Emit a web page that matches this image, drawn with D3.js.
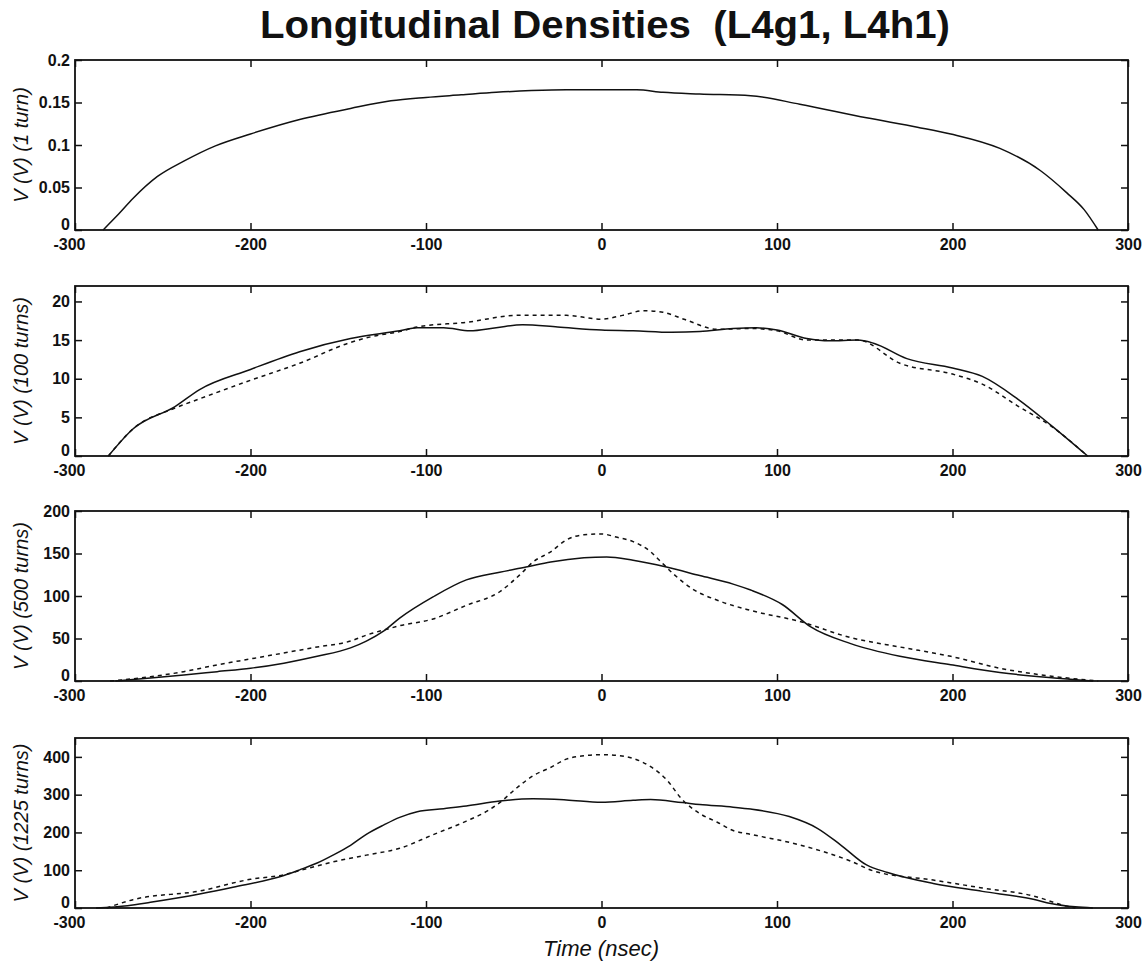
<!DOCTYPE html>
<html>
<head>
<meta charset="utf-8">
<script src="https://cdn.jsdelivr.net/npm/d3@7"></script>
<style>
  body { margin: 0; background: #fff; }
  svg { display: block; }
</style>
</head>
<body>
<svg id="chart" width="1147" height="968"></svg>
<script>
// ---- data ----
const timeTicks = [-300, -200, -100, 0, 100, 200, 300];

// 1 turn (single trace)
const turn1T = [-284, -275, -267, -253, -238, -220, -200, -172, -143, -120, -100, -80, -60, -40, -20, 0, 20, 35, 56, 85, 113, 151, 180, 199, 227, 250, 265, 275, 283];
const turn1V = [0, 0.019, 0.037, 0.063, 0.081, 0.099, 0.113, 0.130, 0.143, 0.152, 0.156, 0.159, 0.162, 0.164, 0.165, 0.165, 0.165, 0.162, 0.160, 0.158, 0.148, 0.132, 0.121, 0.113, 0.096, 0.070, 0.044, 0.024, 0];

// 100 turns
const turn100T = [-281, -267, -243, -229, -200, -172, -143, -115, -105, -90, -75, -60, -45, -25, 0, 18, 40, 56, 75, 88, 100, 117, 130, 146, 155, 174, 200, 217, 237, 256, 277];
const turn100Solid = [0, 3.5, 6.4, 8.6, 11.2, 13.5, 15.2, 16.2, 16.6, 16.6, 16.2, 16.6, 17.0, 16.7, 16.3, 16.2, 16.0, 16.1, 16.5, 16.6, 16.3, 15.2, 14.9, 15.0, 14.6, 12.6, 11.4, 10.3, 7.4, 4.0, 0];
const turn100DashT = [-281, -267, -243, -229, -200, -172, -143, -130, -115, -105, -77, -48, -20, 0, 12, 24, 35, 47, 66, 85, 100, 117, 146, 170, 200, 217, 237, 256, 277];
const turn100Dashed = [0, 3.5, 6.2, 7.4, 9.8, 12.0, 14.7, 15.5, 16.1, 16.7, 17.3, 18.2, 18.2, 17.7, 18.2, 18.8, 18.6, 17.7, 16.4, 16.5, 16.2, 15.0, 15.0, 12.0, 10.6, 9.3, 6.5, 3.9, 0];

// 500 turns
const turn500T = [-277, -257, -238, -219, -200, -181, -162, -143, -134, -124, -115, -96, -77, -58, -43, -29, -10, 3, 18, 37, 56, 75, 85, 103, 119, 142, 170, 199, 227, 255, 280];
const turn500Solid = [0, 3.5, 7, 11, 15, 21, 29, 39, 47, 59, 74, 99, 119, 128, 134, 140, 145, 146, 142, 134, 124, 114, 107, 90, 64, 44, 29, 19, 10, 4, 0];
const turn500DashT = [-280, -257, -238, -219, -200, -181, -162, -143, -134, -124, -115, -96, -77, -58, -46, -39, -29, -20, -10, 0, 9, 18, 28, 33, 41, 52, 66, 85, 113, 142, 170, 199, 227, 255, 283];
const turn500Dashed = [0, 5, 11, 19, 26, 33, 40, 47, 54, 60, 65, 73, 89, 105, 126, 140, 152, 166, 172, 173, 169, 164, 152, 142, 126, 108, 95, 83, 70, 51, 40, 29, 15, 6, 0];

// 1225 turns
const turn1225T = [-288, -270, -257, -229, -210, -181, -172, -162, -153, -143, -134, -124, -115, -105, -90, -77, -58, -39, -20, 0, 18, 28, 46, 56, 75, 85, 107, 123, 136, 151, 163, 189, 217, 246, 256, 270, 280];
const turn1225Solid = [0, 6, 15, 37, 55, 86, 101, 119, 140, 166, 195, 220, 240, 255, 263, 270, 283, 289, 286, 280, 285, 287, 279, 274, 267, 262, 242, 211, 168, 114, 94, 65, 44, 23, 12, 3, 0];
const turn1225DashT = [-282, -267, -229, -200, -181, -172, -153, -134, -115, -96, -77, -65, -58, -48, -39, -29, -20, -10, 0, 9, 18, 28, 37, 46, 56, 66, 75, 85, 113, 142, 155, 189, 217, 246, 265, 270];
const turn1225Dashed = [0, 22, 45, 76, 88, 99, 122, 140, 158, 194, 230, 257, 279, 319, 350, 372, 394, 403, 406, 404, 396, 374, 340, 287, 250, 227, 205, 195, 167, 124, 98, 74, 53, 32, 5, 0];

const zip = (a, b) => a.map((d, i) => [d, b[i]]);

const panels = [
  { label: "V (V) (1 turn)", yMax: 0.2, yTicks: [0, 0.05, 0.1, 0.15, 0.2],
    series: [{ pts: zip(turn1T, turn1V), dash: null }] },
  { label: "V (V) (100 turns)", yMax: 22, yTicks: [0, 5, 10, 15, 20],
    series: [{ pts: zip(turn100T, turn100Solid), dash: null },
             { pts: zip(turn100DashT, turn100Dashed), dash: "4,4" }] },
  { label: "V (V) (500 turns)", yMax: 200, yTicks: [0, 50, 100, 150, 200],
    series: [{ pts: zip(turn500T, turn500Solid), dash: null },
             { pts: zip(turn500DashT, turn500Dashed), dash: "4,4" }] },
  { label: "V (V) (1225 turns)", yMax: 450, yTicks: [0, 100, 200, 300, 400],
    series: [{ pts: zip(turn1225T, turn1225Solid), dash: null },
             { pts: zip(turn1225DashT, turn1225Dashed), dash: "4,4" }] }
];

// ---- layout ----
const svg = d3.select("#chart");
const left = 75, right = 1128;
const panelTops = [60, 286, 511, 738];
const panelH = 170;
const ink = "#111";
const font = "'Liberation Sans', Arial, sans-serif";

svg.append("rect").attr("width", 1147).attr("height", 968).attr("fill", "#fff");

svg.append("text")
  .attr("x", 605).attr("y", 38)
  .attr("text-anchor", "middle")
  .style("white-space", "pre")
  .attr("font-family", font)
  .attr("font-weight", "bold")
  .attr("font-size", 38)
  .attr("textLength", 690)
  .attr("lengthAdjust", "spacingAndGlyphs")
  .attr("fill", ink)
  .text("Longitudinal Densities  (L4g1, L4h1)");

const x = d3.scaleLinear().domain([-300, 300]).range([left, right]);

panels.forEach((p, i) => {
  const top = panelTops[i];
  const y = d3.scaleLinear().domain([0, p.yMax]).range([top + panelH, top]);
  const g = svg.append("g");

  // bottom axis with labels, ticks pointing inward
  const bx = g.append("g")
    .attr("transform", `translate(0,${top + panelH})`)
    .call(d3.axisBottom(x).tickValues(timeTicks).tickSize(-7).tickPadding(9).tickFormat(d => String(d)));
  // top axis, ticks only
  const tx = g.append("g")
    .attr("transform", `translate(0,${top})`)
    .call(d3.axisTop(x).tickValues(timeTicks).tickSize(-7).tickFormat(""));
  // left axis with labels
  const ly = g.append("g")
    .attr("transform", `translate(${left},0)`)
    .call(d3.axisLeft(y).tickValues(p.yTicks).tickSize(-7).tickPadding(5).tickFormat(d => String(d)));
  // right axis, ticks only
  const ry = g.append("g")
    .attr("transform", `translate(${right},0)`)
    .call(d3.axisRight(y).tickValues(p.yTicks).tickSize(-7).tickFormat(""));

  [bx, tx, ly, ry].forEach(a => {
    a.select(".domain").remove();
    a.selectAll(".tick line").attr("stroke", ink).attr("stroke-width", 1.5);
    a.selectAll("text")
      .attr("font-family", font)
      .attr("font-weight", "bold")
      .attr("font-size", 16)
      .attr("fill", ink);
  });

  // keep the "0" on the y axis clear of the -300 below it
  ly.selectAll(".tick text").filter(d => d === 0).attr("dy", "-0.05em");
  bx.selectAll(".tick text").filter(d => d === -300).attr("x", -6);

  // frame
  g.append("rect")
    .attr("x", left).attr("y", top)
    .attr("width", right - left).attr("height", panelH)
    .attr("fill", "none").attr("stroke", ink).attr("stroke-width", 1.8);

  // traces
  const line = d3.line()
    .x(d => x(d[0]))
    .y(d => y(d[1]))
    .curve(d3.curveMonotoneX);

  p.series.forEach(s => {
    g.append("path")
      .datum(s.pts)
      .attr("d", line)
      .attr("fill", "none")
      .attr("stroke", ink)
      .attr("stroke-width", 1.5)
      .attr("stroke-dasharray", s.dash);
  });

  // y axis title
  g.append("text")
    .attr("transform", `translate(28,${top + panelH / 2}) rotate(-90)`)
    .attr("text-anchor", "middle")
    .style("white-space", "pre")
    .attr("font-family", font)
    .attr("font-style", "italic")
    .attr("font-size", 20)
    .attr("fill", ink)
    .text(p.label);
});

svg.append("text")
  .attr("x", 601).attr("y", 956)
  .attr("text-anchor", "middle")
  .attr("font-family", font)
  .attr("font-style", "italic")
  .attr("font-size", 22)
  .attr("fill", ink)
  .text("Time (nsec)");
</script>
</body>
</html>
